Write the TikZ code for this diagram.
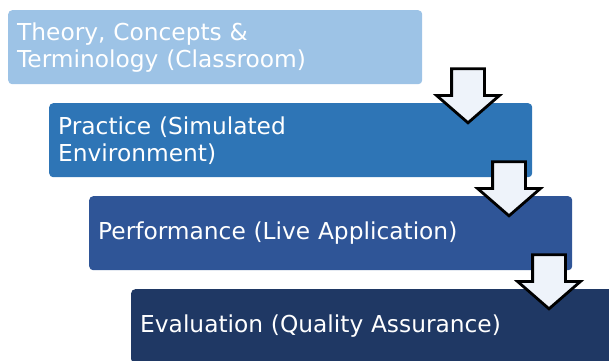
\documentclass[tikz,border=0pt]{standalone}
\usepackage{fontspec}
\setmainfont{DejaVu Sans}
\usetikzlibrary{shapes.arrows, calc}

\definecolor{stageone}{HTML}{9DC3E6}
\definecolor{stagetwo}{HTML}{2E75B6}
\definecolor{stagethree}{HTML}{2F5597}
\definecolor{stagefour}{HTML}{1F3864}
\definecolor{arrowfill}{HTML}{EEF3FA}

\begin{document}
\begin{tikzpicture}[x = 1pt, y = -1pt,
	stage/.style = {rectangle, rounded corners = 4pt, anchor = north west,
		minimum height = 74pt, inner xsep = 9pt, inner ysep = 0pt,
		text = white, align = left, font = \fontsize{23.3}{27}\selectfont},
	flowarrow/.style = {single arrow, draw = black, line width = 2.8pt,
		fill = arrowfill, rotate = -90, anchor = tail, minimum height = 54pt,
		inner xsep = 0pt, inner ysep = 15pt, single arrow head extend = 15pt,
		single arrow tip angle = 98}]

	\useasboundingbox (0, 0) rectangle (609, 360);

	% Stages
	
	\node [stage, fill = stageone, minimum width = 414pt, text width = 396pt]
		(theory) at (8, 10) {Theory, Concepts \&\\Terminology (Classroom)};
	\node [stage, fill = stagetwo, minimum width = 483pt, text width = 465pt]
		(practice) at (49, 103) {Practice (Simulated\\Environment)};
	\node [stage, fill = stagethree, minimum width = 483pt, text width = 465pt]
		(performance) at (89, 196) {Performance (Live Application)};
	\node [stage, fill = stagefour, minimum width = 500pt, text width = 482pt]
		(evaluation) at (131, 289) {Evaluation (Quality Assurance)};

	% Arrows
	
	\node [flowarrow] (theory-practice) at ($(theory.south west) + (460, -17)$) {};
	\node [flowarrow] (practice-performance) at ($(practice.south west) + (460, -17)$) {};
	\node [flowarrow] (performance-evaluation) at ($(performance.south west) + (460, -17)$) {};

\end{tikzpicture}
\end{document}
